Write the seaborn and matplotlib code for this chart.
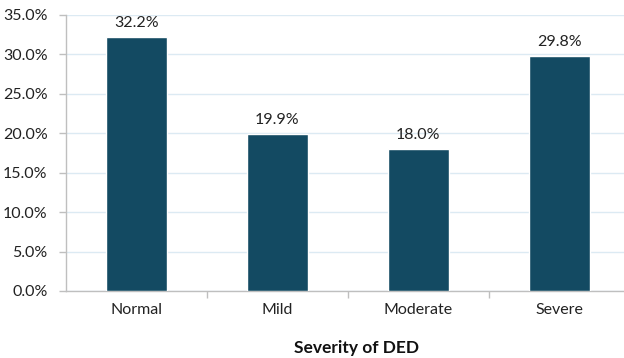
import matplotlib
matplotlib.use("Agg")
import matplotlib.pyplot as plt
import seaborn as sns
from matplotlib.ticker import FuncFormatter, FixedLocator

categories = ["Normal", "Mild", "Moderate", "Severe"]
percentages = [32.2, 19.9, 18.0, 29.8]
y_ticks = [0, 5, 10, 15, 20, 25, 30, 35]

sns.set_theme(style="white")
plt.rcParams["font.family"] = ["Lato", "DejaVu Sans"]

fig = plt.figure(figsize=(6.24, 3.58), dpi=100)
ax = fig.add_axes([65.7 / 624, 67 / 358, (624 - 65.7) / 624, 276 / 358])

bar_color = "#134a62"
sns.barplot(x=categories, y=percentages, color=bar_color, width=0.43,
            saturation=1, ax=ax, zorder=3)

ax.set_xlim(-0.5, -0.5 + (624 - 65.7) / 141)
ax.set_ylim(0, 35)
ax.yaxis.set_major_locator(FixedLocator(y_ticks))
ax.yaxis.set_major_formatter(FuncFormatter(lambda v, _: f"{v:.1f}%"))
ax.grid(axis="y", color="#dceaf3", linewidth=1, zorder=0)
ax.grid(axis="x", visible=False)

for side in ["top", "right"]:
    ax.spines[side].set_visible(False)
for side in ["left", "bottom"]:
    ax.spines[side].set_color("#bfbfbf")
    ax.spines[side].set_linewidth(1)

ax.tick_params(axis="y", which="major", length=5, color="#bfbfbf", width=1,
               labelsize=11.5, labelcolor="#222222", pad=8, left=True)
ax.tick_params(axis="x", which="major", length=0, labelsize=11.5,
               labelcolor="#222222", pad=9)
ax.set_xticks(range(len(categories)))
ax.set_xticklabels(categories)
ax.set_xticks([0.5, 1.5, 2.5], minor=True)
ax.tick_params(axis="x", which="minor", length=5, color="#bfbfbf", width=1,
               bottom=True)

for container in ax.containers:
    ax.bar_label(container, labels=[f"{v:.1f}%" for v in percentages],
                 padding=5, fontsize=11.5, color="#222222")

ax.set_xlabel("")
ax.set_ylabel("")
fig.text(357 / 624, 1 - 348 / 358, "Severity of DED", fontsize=12.5,
         fontweight="bold", color="#111111", ha="center", va="center")

fig.savefig("out.png", dpi=100)
